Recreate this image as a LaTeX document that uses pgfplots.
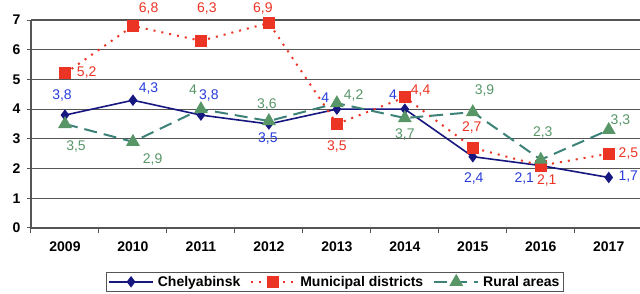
\documentclass[border=0pt]{standalone}
\usepackage{pgfplots}
\pgfplotsset{compat=1.18}
\usepackage{fontspec}
\setmainfont{Liberation Sans}
\definecolor{cnavy}{RGB}{22,24,128}
\definecolor{cblue}{RGB}{40,60,220}
\definecolor{cred}{RGB}{236,52,36}
\definecolor{cteal}{RGB}{60,130,120}
\definecolor{cgreen}{RGB}{88,150,104}
\definecolor{cgrid}{RGB}{85,85,85}
\begin{document}
\begin{tikzpicture}
\begin{axis}[
  scale only axis,
  width=609pt, height=208pt,
  xmin=-0.5, xmax=8.46, ymin=0, ymax=7,
  axis x line*=bottom, axis y line*=left,
  axis line style={cgrid, line width=1.2pt, -},
  xtick={0,...,8},
  xticklabels={2009,2010,2011,2012,2013,2014,2015,2016,2017},
  major x tick style={draw=none},
  minor xtick={-0.5,0.5,...,8.5},
  minor x tick style={cgrid, line width=1pt},
  minor tick length=5pt,
  ytick={0,...,7},
  major tick length=4pt,
  tick align=outside,
  ytick style={cgrid, line width=1pt},
  ymajorgrids,
  major grid style={cgrid, line width=1.1pt},
  tick label style={font=\fontsize{14}{16}\selectfont\bfseries},
  /pgf/number format/assume math mode=true,
  xticklabel style={yshift=-6pt},
  yticklabel style={xshift=-3pt},
  clip=false,
  nodes near coords,
  point meta=explicit symbolic,
  visualization depends on={value \thisrow{a} \as \anc},
  visualization depends on={\thisrow{dx} \as \dx},
  visualization depends on={\thisrow{dy} \as \dy},
  every node near coord/.append style={anchor=\anc, xshift=\dx pt, yshift=\dy pt,
    font=\fontsize{14}{16}\selectfont, inner sep=0pt},
  legend columns=3,
  legend style={at={(rel axis cs:0.499,-0.2115)}, anchor=north, draw=cgrid, line width=1pt,
    font=\fontsize{14}{16}\selectfont\bfseries, inner sep=1.5pt,
    /tikz/every even column/.append style={column sep=8pt},
    /tikz/every odd column/.append style={column sep=2pt}},
  legend image code/.code={
    \draw[#1, mark=none] (0pt,0pt) -- (44pt,0pt);
    \draw[#1, only marks] plot coordinates {(22pt,0pt)};
  },
]
\addplot[cnavy, line width=1.6pt, mark=diamond*, mark size=4.5pt,
  every node near coord/.append style={text=cblue}]
  table[x=x, y=y, meta=l, col sep=semicolon] {
x;y;l;a;dx;dy
0;3.8;3,8;south;-3;13
1;4.3;4,3;south west;5;5
2;3.8;3,8;south;8;13
3;3.5;3,5;north;-1;-8
4;4.0;4;south east;-7;6
5;4.0;4;south east;-7;9
6;2.4;2,4;north;1;-15
7;2.1;2,1;north east;-6;-6
8;1.7;1,7;west;9;1
};
\addlegendentry{Chelyabinsk}
\addplot[cred, line width=2pt, dash pattern=on 2pt off 6pt, mark=square*, mark size=5pt,
  mark options={solid},
  every node near coord/.append style={text=cred}]
  table[x=x, y=y, meta=l, col sep=semicolon] {
x;y;l;a;dx;dy
0;5.2;5,2;west;11;1
1;6.8;6,8;south west;5;11
2;6.3;6,3;south;6;26
3;6.9;6,9;south;-6;8
4;3.5;3,5;north;0;-16
5;4.4;4,4;west;5;7
6;2.7;2,7;south;-1;13
7;2.1;2,1;north;6;-8
8;2.5;2,5;west;9;0
};
\addlegendentry{Municipal districts}
\addplot[cteal, line width=2pt, dash pattern=on 13pt off 7pt, mark=triangle*, mark size=6pt,
  mark options={solid, fill=cgreen, draw=cgreen},
  every node near coord/.append style={text=cgreen}]
  table[x=x, y=y, meta=l, col sep=semicolon] {
x;y;l;a;dx;dy
0;3.5;3,5;north;11;-16
1;2.9;2,9;north west;9;-11
2;4.0;4;south east;-3;14
3;3.6;3,6;south;-2;10
4;4.2;4,2;south west;6;1
5;3.7;3,7;north;0;-10
6;3.9;3,9;south west;1;15
7;2.3;2,3;south;2;20
8;3.3;3,3;south west;1;3
};
\addlegendentry{Rural areas}
\coordinate (ll) at (rel axis cs:0,0);
\coordinate (ur) at (rel axis cs:1,1);
\end{axis}
\pgfresetboundingbox
\path[use as bounding box] ([xshift=-31pt,yshift=-66pt]ll) rectangle ([yshift=20pt]ur);
\end{tikzpicture}
\end{document}
